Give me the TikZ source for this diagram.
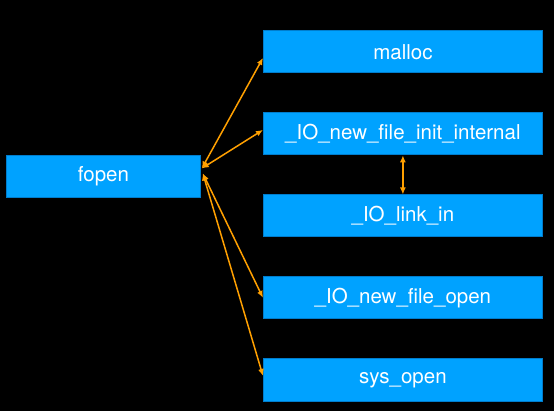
\documentclass[tikz,border=0pt]{standalone}
\usepackage{fontspec}
\setmainfont{TeX Gyre Heros}
\usetikzlibrary{arrows.meta}
\definecolor{boxblue}{RGB}{0,162,255}
\definecolor{boxedge}{RGB}{0,125,205}
\definecolor{arr}{RGB}{255,160,0}
\begin{document}
\begin{tikzpicture}[x=1pt,y=-1pt,
  box/.style={draw=boxedge, fill=boxblue, line width=0.8pt, minimum width=279pt,
    minimum height=42pt, text=white, font=\fontsize{20.5}{22}\selectfont,
    inner sep=0pt, anchor=north west},
  link/.style={draw=arr, line width=1.5pt,
    {Latex[length=7pt,width=6pt]}-{Latex[length=7pt,width=6pt]}}]
\fill[black] (0,0) rectangle (554,411);
\useasboundingbox (0,0) rectangle (554,411);
\node[box, minimum width=194pt] (fopen) at (6,155) {fopen};
\node[box] (malloc) at (263,30.5) {malloc};
\node[box] (init) at (263,112.5) {\_IO\_new\_file\_init\_internal};
\node[box] (linkin) at (263,194.5) {\_IO\_link\_in};
\node[box] (nfo) at (263,276.5) {\_IO\_new\_file\_open};
\node[box] (sysopen) at (263,358.5) {sys\_open};
\draw[link] ([xshift=1pt,yshift=8pt]fopen.east) -- ([yshift=-6pt]malloc.west);
\draw[link] ([xshift=1pt,yshift=8pt]fopen.east) -- ([yshift=4pt]init.west);
\draw[link] ([xshift=2pt,yshift=3pt]fopen.east) -- (nfo.west);
\draw[link] ([xshift=2pt,yshift=3pt]fopen.east) -- ([yshift=4pt]sysopen.west);
\draw[link] (init.south) -- (linkin.north);
\end{tikzpicture}
\end{document}
